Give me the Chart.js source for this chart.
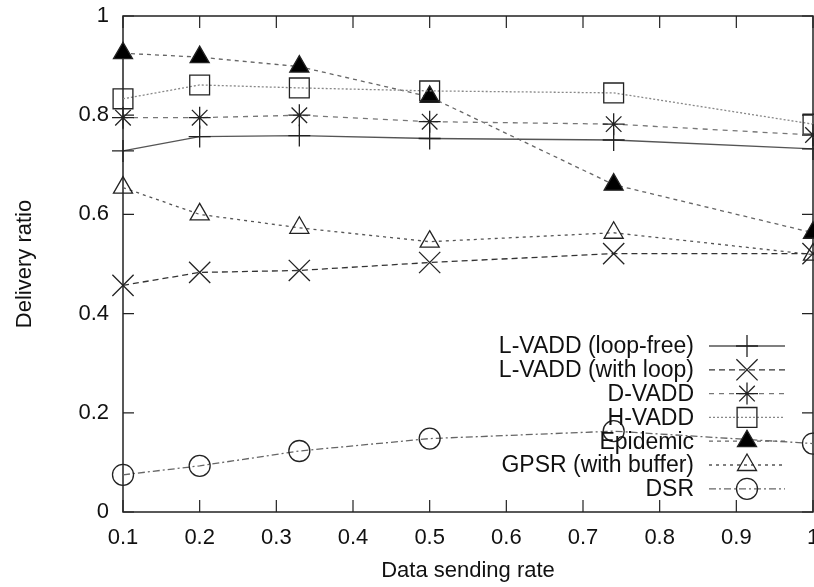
<!DOCTYPE html>
<html>
<head>
<meta charset="utf-8">
<script src="https://cdn.jsdelivr.net/npm/chart.js@4/dist/chart.umd.min.js"></script>
<style>
  html, body { margin: 0; padding: 0; background: #fff; }
  #wrap { width: 814px; height: 587px; }
</style>
</head>
<body>
<div id="wrap"><canvas id="chart" width="814" height="587"></canvas></div>
<script>
const rates = [0.1, 0.2, 0.33, 0.5, 0.74, 1.0];
const lvaddLoopFree = [0.728, 0.757, 0.759, 0.753, 0.75, 0.732];
const lvaddWithLoop = [0.457, 0.483, 0.487, 0.503, 0.521, 0.521];
const dvadd = [0.795, 0.795, 0.80, 0.787, 0.782, 0.76];
const hvadd = [0.833, 0.861, 0.855, 0.849, 0.845, 0.782];
const epidemic = [0.925, 0.917, 0.898, 0.837, 0.66, 0.563];
const gpsr = [0.654, 0.60, 0.573, 0.545, 0.563, 0.519];
const dsr = [0.075, 0.093, 0.123, 0.148, 0.163, 0.138];

const FONT = 'Liberation Sans, Arial, sans-serif';

function toPoints(values) {
  return values.map(function(v, i) { return { x: rates[i], y: v }; });
}

function series(label, values, style, radius, dash, lineColor, fill) {
  return {
    label: label,
    data: toPoints(values),
    borderColor: lineColor,
    borderWidth: 1.3,
    borderDash: dash,
    pointStyle: style,
    pointRadius: radius,
    pointBorderColor: '#222',
    pointBackgroundColor: fill || 'rgba(0,0,0,0)',
    pointBorderWidth: 1.3,
    tension: 0,
    clip: false
  };
}

const datasets = [
  series('L-VADD (loop-free)', lvaddLoopFree, 'cross', 11, [], '#555'),
  series('L-VADD (with loop)', lvaddWithLoop, 'crossRot', 15, [6, 4], '#333'),
  series('D-VADD', dvadd, 'star', 11, [5, 5], '#777'),
  series('H-VADD', hvadd, 'rect', 14, [2, 2], '#888'),
  series('Epidemic', epidemic, 'triangle', 11, [4, 4], '#666', '#000'),
  series('GPSR (with buffer)', gpsr, 'triangle', 11, [3, 4], '#555'),
  series('DSR', dsr, 'circle', 10.5, [7, 3, 2, 3], '#666')
];

function shortLabel(value) {
  return String(Math.round(value * 10) / 10);
}

// gnuplot-like frame with inward ticks
const frame = {
  id: 'frame',
  beforeDatasetsDraw(chart) {
    const ctx = chart.ctx;
    const a = chart.chartArea;
    const xs = chart.scales.x, ys = chart.scales.y;
    ctx.save();
    ctx.strokeStyle = '#222';
    ctx.lineWidth = 1.5;
    ctx.strokeRect(a.left, a.top, a.right - a.left, a.bottom - a.top);
    ctx.lineWidth = 1.2;
    ctx.beginPath();
    xs.ticks.forEach(function(t) {
      const px = xs.getPixelForValue(t.value);
      ctx.moveTo(px, a.bottom); ctx.lineTo(px, a.bottom - 12);
      ctx.moveTo(px, a.top); ctx.lineTo(px, a.top + 12);
    });
    ys.ticks.forEach(function(t) {
      const py = ys.getPixelForValue(t.value);
      ctx.moveTo(a.left, py); ctx.lineTo(a.left + 11, py);
      ctx.moveTo(a.right, py); ctx.lineTo(a.right - 11, py);
    });
    ctx.stroke();
    ctx.restore();
  },
  afterDraw(chart) {
    // key in the lower right, text right-aligned then line sample
    const ctx = chart.ctx;
    const a = chart.chartArea;
    const textRight = a.right - 119;
    const lineStart = a.right - 104, lineEnd = a.right - 28;
    const markX = (lineStart + lineEnd) / 2;
    let y = a.bottom - 166;
    ctx.save();
    ctx.font = '23px ' + FONT;
    ctx.textAlign = 'right';
    ctx.textBaseline = 'middle';
    chart.data.datasets.forEach(function(ds) {
      ctx.fillStyle = '#111';
      ctx.fillText(ds.label, textRight, y + 1);
      ctx.strokeStyle = ds.borderColor;
      ctx.lineWidth = ds.borderWidth;
      ctx.setLineDash(ds.borderDash);
      ctx.beginPath();
      ctx.moveTo(lineStart, y); ctx.lineTo(lineEnd, y);
      ctx.stroke();
      ctx.setLineDash([]);
      ctx.strokeStyle = ds.pointBorderColor;
      ctx.fillStyle = ds.pointBackgroundColor;
      ctx.lineWidth = ds.pointBorderWidth;
      Chart.helpers.drawPoint(ctx, {
        pointStyle: ds.pointStyle,
        radius: ds.pointRadius,
        rotation: 0,
        borderWidth: ds.pointBorderWidth
      }, markX, y);
      y += 23.8;
    });
    ctx.restore();
  }
};

function noSidePadding(scale) {
  scale.height = 75;
  scale.paddingLeft = 0;
  scale.paddingRight = 0;
}

const config = {
  type: 'line',
  data: { datasets: datasets },
  options: {
    responsive: false,
    animation: false,
    layout: { autoPadding: false, padding: { top: 16, right: 1, left: 0, bottom: 0 } },
    plugins: { legend: { display: false }, tooltip: { enabled: false } },
    scales: {
      x: {
        type: 'linear',
        min: 0.1,
        max: 1,
        ticks: { stepSize: 0.1, padding: 13, color: '#111', font: { family: FONT, size: 22 }, callback: shortLabel },
        grid: { display: false, drawTicks: false },
        border: { display: false },
        title: { display: true, text: 'Data sending rate', color: '#111', font: { family: FONT, size: 22 }, padding: { top: 0, bottom: 3 } },
        afterFit: noSidePadding
      },
      y: {
        min: 0,
        max: 1,
        ticks: { stepSize: 0.2, padding: 14, color: '#111', font: { family: FONT, size: 22 }, callback: shortLabel },
        grid: { display: false, drawTicks: false },
        border: { display: false },
        title: { display: true, text: 'Delivery ratio', color: '#111', font: { family: FONT, size: 22 }, padding: { top: 12, bottom: 0 } },
        afterFit: function(scale) { scale.width = 123; scale.paddingTop = 0; scale.paddingBottom = 0; }
      }
    }
  },
  plugins: [frame]
};

const myChart = new Chart(document.getElementById('chart'), config);
</script>
</body>
</html>
